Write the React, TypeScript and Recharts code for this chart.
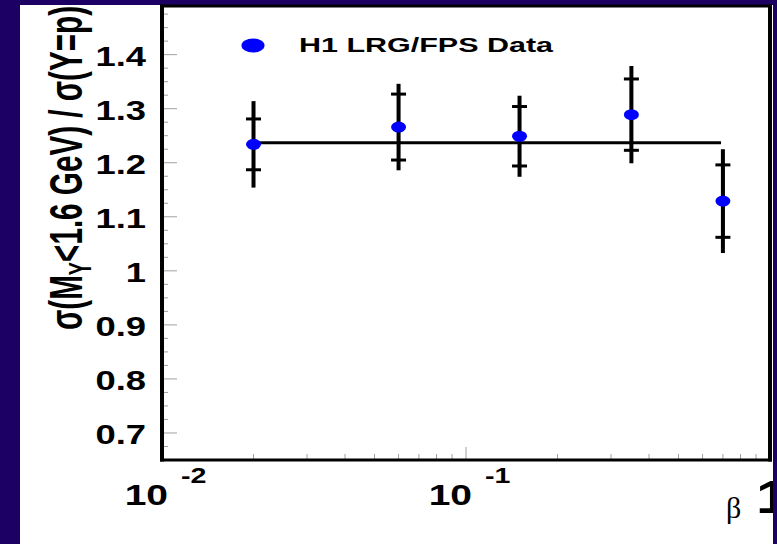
import {
  ComposedChart,
  ErrorBar,
  Label,
  ReferenceLine,
  Scatter,
  XAxis,
  YAxis,
} from "recharts";

const betaValues = [0.02, 0.06, 0.15, 0.35, 0.7];
const ratioValues = [1.234, 1.266, 1.249, 1.289, 1.129];
const statErrors = [0.047, 0.061, 0.055, 0.066, 0.067];
const totalErrors = [0.08, 0.08, 0.075, 0.09, 0.096];
const fitValue = 1.237;
const fitRange = [0.02, 0.69];

const xTicks = [
  0.01, 0.02, 0.03, 0.04, 0.05, 0.06, 0.07, 0.08, 0.09, 0.1, 0.2, 0.3, 0.4,
  0.5, 0.6, 0.7, 0.8, 0.9, 1,
];
const xMajor = [0.01, 0.1, 1];
const yTicks = [
  0.675, 0.7, 0.725, 0.75, 0.775, 0.8, 0.825, 0.85, 0.875, 0.9, 0.925, 0.95,
  0.975, 1, 1.025, 1.05, 1.075, 1.1, 1.125, 1.15, 1.175, 1.2, 1.225, 1.25,
  1.275, 1.3, 1.325, 1.35, 1.375, 1.4, 1.425, 1.45, 1.475,
];
const yMajor = [0.7, 0.8, 0.9, 1, 1.1, 1.2, 1.3, 1.4];

const data = betaValues.map((beta, i) => ({
  beta,
  ratio: ratioValues[i],
  stat: statErrors[i],
  tot: totalErrors[i],
}));

const NAVY = "#1c0063";
const FONT = "'Liberation Sans', Arial, Helvetica, sans-serif";
const PLOT_LEFT = 162;
const PLOT_RIGHT = 770;
const PLOT_TOP = 6;
const PLOT_BOTTOM = 460;

const isMajor = (list: number[], v: number) =>
  list.some((m) => Math.abs(m - v) < 1e-9);

function YTick(props: any) {
  const { y, payload } = props;
  const major = isMajor(yMajor, payload.value);
  return (
    <g>
      <line
        x1={PLOT_LEFT}
        x2={PLOT_LEFT + (major ? 15 : 6)}
        y1={y}
        y2={y}
        stroke="#a0a0a0"
        strokeWidth={1}
      />
      {major && (
        <text
          transform={`translate(146 ${y + 11}) scale(1.3 1)`}
          textAnchor="end"
          fontSize={28}
          fontWeight="bold"
          fontFamily={FONT}
          fill="#000"
        >
          {String(payload.value)}
        </text>
      )}
    </g>
  );
}

function XTick(props: any) {
  const { x, payload } = props;
  const v = payload.value;
  const major = isMajor(xMajor, v);
  let label = null;
  if (major && v < 0.99) {
    const exp = Math.round(Math.log10(v));
    label = (
      <g>
        <text
          transform={`translate(${x + 6} 505) scale(1.3 1)`}
          textAnchor="end"
          fontSize={30}
          fontWeight="bold"
          fontFamily={FONT}
        >
          10
        </text>
        <text
          transform={`translate(${x + 19} 483) scale(1.3 1)`}
          fontSize={22}
          fontWeight="bold"
          fontFamily={FONT}
        >
          {String(exp)}
        </text>
      </g>
    );
  } else if (major) {
    label = (
      <text
        transform={`translate(${x - 14} 513) scale(1.3 1)`}
        fontSize={46}
        fontWeight="bold"
        fontFamily={FONT}
      >
        1
      </text>
    );
  }
  return (
    <g>
      <line
        x1={x}
        x2={x}
        y1={PLOT_BOTTOM}
        y2={PLOT_BOTTOM - (major ? 13 : 6)}
        stroke="#a0a0a0"
        strokeWidth={1}
      />
      {label}
    </g>
  );
}

function Marker(props: any) {
  const { cx, cy } = props;
  return <ellipse cx={cx} cy={cy} rx={7.5} ry={5.5} fill="#0000ff" />;
}

export default function App() {
  return (
    <div
      style={{
        position: "absolute",
        left: 0,
        top: 0,
        width: 777,
        height: 544,
        background: NAVY,
        overflow: "hidden",
      }}
    >
      <div
        style={{
          position: "absolute",
          left: 20,
          top: 5,
          width: 753,
          height: 539,
          background: "#fff",
        }}
      />
      <div style={{ position: "absolute", left: 0, top: 0 }}>
        <ComposedChart
          width={777}
          height={544}
          data={data}
          margin={{ top: PLOT_TOP, right: 777 - PLOT_RIGHT, bottom: 14, left: 22 }}
        >
          <XAxis
            dataKey="beta"
            type="number"
            scale="log"
            domain={[0.01, 1]}
            ticks={xTicks}
            interval={0}
            allowDataOverflow
            axisLine={false}
            tickLine={false}
            height={70}
            tick={<XTick />}
          >
            <Label
              content={() => (
                <text
                  x={726}
                  y={518}
                  fontSize={30}
                  fontFamily="'Liberation Serif', 'Times New Roman', serif"
                >
                  β
                </text>
              )}
            />
          </XAxis>
          <YAxis
            dataKey="ratio"
            type="number"
            domain={[0.65, 1.49]}
            ticks={yTicks}
            interval={0}
            allowDataOverflow
            axisLine={false}
            tickLine={false}
            width={140}
            tick={<YTick />}
          >
            <Label
              content={() => (
                <text
                  transform="translate(82 168) scale(1.55 1) rotate(-90)"
                  textAnchor="middle"
                  fontSize={30}
                  fontWeight="bold"
                  fontFamily={FONT}
                  textLength={324}
                  lengthAdjust="spacingAndGlyphs"
                >
                  <tspan>σ(M</tspan>
                  <tspan dy={6} fontSize={20}>
                    Y
                  </tspan>
                  <tspan dy={-6}>&lt;1.6 GeV) / σ(Y=p)</tspan>
                </text>
              )}
            />
          </YAxis>
          <Scatter
            dataKey="ratio"
            shape={<Marker />}
            isAnimationActive={false}
          >
            <ErrorBar
              dataKey="tot"
              direction="y"
              width={0}
              stroke="#000"
              strokeWidth={4}
              isAnimationActive={false}
            />
            <ErrorBar
              dataKey="stat"
              direction="y"
              width={7.5}
              stroke="#000"
              strokeWidth={3}
              isAnimationActive={false}
            />
          </Scatter>
          <ReferenceLine
            segment={[
              { x: fitRange[0], y: fitValue },
              { x: fitRange[1], y: fitValue },
            ]}
            stroke="#000"
            strokeWidth={3}
            ifOverflow="visible"
          />
        </ComposedChart>
      </div>
      <svg
        width={777}
        height={544}
        style={{ position: "absolute", left: 0, top: 0, pointerEvents: "none" }}
      >
        <ellipse cx={253} cy={45.5} rx={11.5} ry={7} fill="#0000ff" />
        <text
          x={299}
          y={52.3}
          fontSize={21}
          fontWeight="bold"
          fontFamily={FONT}
          textLength={254}
          lengthAdjust="spacingAndGlyphs"
        >
          H1 LRG/FPS Data
        </text>
        <g stroke="#000" fill="none">
          <line x1={PLOT_LEFT} x2={PLOT_LEFT} y1={PLOT_TOP - 1.5} y2={PLOT_BOTTOM + 1.5} strokeWidth={4} />
          <line x1={PLOT_RIGHT} x2={PLOT_RIGHT} y1={PLOT_TOP - 1.5} y2={PLOT_BOTTOM + 1.5} strokeWidth={4} />
          <line x1={PLOT_LEFT - 2} x2={PLOT_RIGHT + 2} y1={PLOT_TOP} y2={PLOT_TOP} strokeWidth={3} />
          <line x1={PLOT_LEFT - 2} x2={PLOT_RIGHT + 2} y1={PLOT_BOTTOM} y2={PLOT_BOTTOM} strokeWidth={3} />
        </g>
        <rect x={773} y={0} width={4} height={544} fill={NAVY} />
      </svg>
    </div>
  );
}
